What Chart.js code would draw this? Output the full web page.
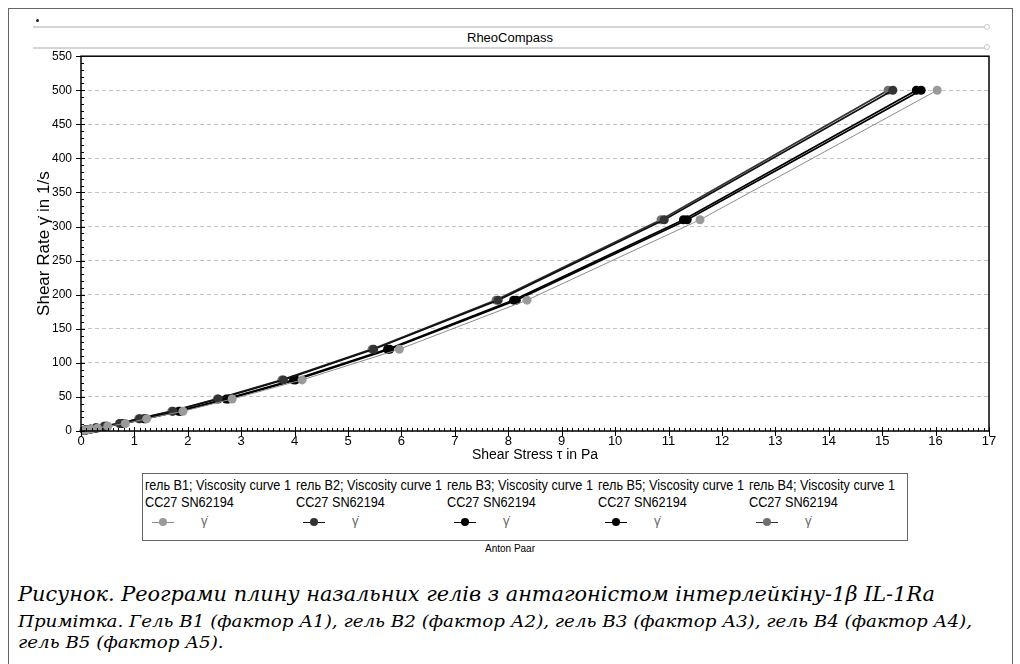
<!DOCTYPE html>
<html>
<head>
<meta charset="utf-8">
<script src="https://cdn.jsdelivr.net/npm/chart.js@4.4.1/dist/chart.umd.min.js"></script>
<style>
  body { margin: 0; background: #fff; width: 1020px; height: 664px; overflow: hidden; position: relative;
         font-family: "Liberation Sans", Arial, sans-serif; color: #000; }
  #ramka { position: absolute; left: 8px; top: 8px; width: 1003px; height: 660px; border: 1px solid #666; border-bottom: none; }
  #shapka { position: absolute; left: 33px; top: 26px; width: 954px; height: 19px; border-top: 2px solid #d4d4d4; border-bottom: 2px solid #d4d4d4;
            text-align: center; font-size: 13px; line-height: 19px; }
  .kinets { position: absolute; left: 984px; width: 4px; height: 4px; border-radius: 50%; border: 1px solid #c8c8c8; background: #fff; }
  #krapka { position: absolute; left: 36px; top: 19px; width: 3px; height: 3px; background: #222; border-radius: 50%; }
  #kanva { position: absolute; left: 0; top: 40px; }
  #legenda { position: absolute; left: 142px; top: 473px; width: 764px; height: 66px; border: 1.5px solid #666; }
  .punkt { position: absolute; top: 3px; width: 150px; height: 60px; }
  .tekst { position: absolute; left: 0; top: 0; font-size: 14px; line-height: 17px; white-space: nowrap; transform-origin: 0 0; }
  .liniya { position: absolute; left: 7px; top: 45px; width: 22px; height: 1px; }
  .kolo { position: absolute; left: 14px; top: 41px; width: 8px; height: 8px; border-radius: 50%; }
  .gama { position: absolute; left: 56px; top: 36px; font-size: 13px; color: #666; }
  #anton { position: absolute; left: 0; width: 1020px; top: 543px; text-align: center; font-size: 10px; }
  .pidpys { position: absolute; left: 18px; font-family: "DejaVu Serif", serif; font-style: italic; white-space: nowrap; transform-origin: 0 0; }
</style>
</head>
<body>
<div id="ramka"></div>
<div id="krapka"></div>
<div id="shapka">RheoCompass</div>
<div class="kinets" style="top:24px"></div>
<div class="kinets" style="top:44px"></div>
<canvas id="kanva" width="1000" height="430"></canvas>
<div id="legenda"></div>
<div id="anton">Anton Paar</div>
<div class="pidpys" id="ryadok1" style="top:582px;font-size:20px;">Рисунок. Реограми плину назальних гелів з антагоністом інтерлейкіну-1β IL-1Ra</div>
<div class="pidpys" id="ryadok2" style="top:612px;font-size:16px;">Примітка. Гель В1 (фактор А1), гель В2 (фактор А2), гель В3 (фактор А3), гель В4 (фактор А4),</div>
<div class="pidpys" id="ryadok3" style="top:633px;font-size:16px;">гель В5 (фактор А5).</div>
<script>
// швидкість зсуву, 1/s
const shvydkist = [1, 1.7, 2.7, 4.3, 7, 11, 18, 29, 47, 75, 120, 192, 310, 500];
// напруга зсуву, Pa
const gelB1 = [0.07, 0.12, 0.19, 0.31, 0.50, 0.83, 1.23, 1.91, 2.83, 4.14, 5.96, 8.35, 11.59, 16.03];
const gelB2 = [0.06, 0.10, 0.17, 0.27, 0.44, 0.73, 1.10, 1.72, 2.57, 3.79, 5.48, 7.81, 10.92, 15.20];
const gelB3 = [0.07, 0.11, 0.18, 0.29, 0.47, 0.78, 1.18, 1.83, 2.72, 3.98, 5.74, 8.10, 11.28, 15.64];
const gelB5 = [0.07, 0.11, 0.18, 0.29, 0.49, 0.80, 1.21, 1.86, 2.76, 4.02, 5.78, 8.15, 11.35, 15.73];
const gelB4 = [0.06, 0.10, 0.17, 0.27, 0.43, 0.72, 1.08, 1.70, 2.55, 3.76, 5.45, 7.77, 10.86, 15.11];

const seriyi = [
  { nazva: "гель B1", dani: gelB1, liniya: "#8c8c8c", tovshchyna: 1, kolir: "#9a9a9a" },
  { nazva: "гель B2", dani: gelB2, liniya: "#111", tovshchyna: 1.8, kolir: "#333" },
  { nazva: "гель B3", dani: gelB3, liniya: "#000", tovshchyna: 1.8, kolir: "#000" },
  { nazva: "гель B5", dani: gelB5, liniya: "#000", tovshchyna: 1.8, kolir: "#000" },
  { nazva: "гель B4", dani: gelB4, liniya: "#333", tovshchyna: 1.8, kolir: "#707070" }
];

const shryft = '"Liberation Sans", Arial, sans-serif';

const ramkaPlugin = {
  id: 'ramkaPlugin',
  afterDatasetsDraw(chart) {
    const { ctx, chartArea: a, scales } = chart;
    ctx.save();
    ctx.strokeStyle = "#000";
    ctx.lineWidth = 1.5;
    ctx.strokeRect(a.left, a.top, a.right - a.left, a.bottom - a.top);
    ctx.lineWidth = 1;
    ctx.beginPath();
    for (let i = 0; i <= 170; i++) {
      const px = Math.round(scales.x.getPixelForValue(i / 10)) + 0.5;
      if (i % 10 === 0) { ctx.moveTo(px, a.bottom - 4); ctx.lineTo(px, a.bottom + 5); }
      else { ctx.moveTo(px, a.bottom); ctx.lineTo(px, a.bottom - 3); }
    }
    for (let i = 0; i <= 55; i++) {
      const py = Math.round(scales.y.getPixelForValue(i * 10)) + 0.5;
      if (i % 5 === 0) { ctx.moveTo(a.left - 5, py); ctx.lineTo(a.left + 4, py); }
      else { ctx.moveTo(a.left, py); ctx.lineTo(a.left + 3, py); }
    }
    ctx.stroke();
    ctx.restore();
  }
};

const grafik = new Chart(document.getElementById('kanva'), {
  type: 'line',
  data: {
    datasets: seriyi.map(s => ({
      label: s.nazva,
      data: s.dani.map((v, i) => ({ x: v, y: shvydkist[i] })),
      borderColor: s.liniya,
      borderWidth: s.tovshchyna,
      backgroundColor: s.kolir,
      pointBackgroundColor: s.kolir,
      pointBorderColor: s.kolir,
      pointRadius: 4.5,
      pointBorderWidth: 0,
      tension: 0
    }))
  },
  options: {
    responsive: false,
    animation: false,
    devicePixelRatio: 1,
    clip: false,
    layout: { padding: { left: 34, right: 11, top: 8, bottom: 0 } },
    plugins: { legend: { display: false }, tooltip: { enabled: false } },
    scales: {
      x: {
        type: 'linear', min: 0, max: 17,
        afterFit: s => { s.height = 39; },
        ticks: { stepSize: 1, padding: 3, color: '#000', font: { family: shryft, size: 13 } },
        grid: { display: false, drawTicks: false },
        border: { display: false },
        title: { display: true, text: 'Shear Stress τ in Pa', color: '#000', padding: { top: 0, bottom: 6 }, font: { family: shryft, size: 14 } }
      },
      y: {
        type: 'linear', min: 0, max: 550,
        afterFit: s => { s.width = 47; },
        ticks: { stepSize: 50, padding: 9, color: '#000', font: { family: shryft, size: 12 } },
        grid: { color: '#c4c4c4', lineWidth: 1, drawTicks: false },
        border: { display: false, dash: [4, 3] },
        title: { display: true, text: 'Shear Rate γ̇ in 1/s', color: '#000', padding: { top: 0, bottom: 0 }, font: { family: shryft, size: 17 } }
      }
    }
  },
  plugins: [ramkaPlugin]
});

// підгонка ширини тексту
function pidignaty(el, shyryna) {
  const w = el.getBoundingClientRect().width;
  el.style.transform = `scaleX(${shyryna / w})`;
  return shyryna / w;
}

// легенда
const legenda = document.getElementById('legenda');
seriyi.forEach((s, i) => {
  const p = document.createElement('div');
  p.className = 'punkt';
  p.style.left = (2 + i * 151) + 'px';
  p.innerHTML = `<div class="tekst"><span class="r1">${s.nazva}; Viscosity curve 1</span><br>CC27 SN62194</div>
    <div class="liniya" style="background:${s.liniya}"></div>
    <div class="kolo" style="background:${s.kolir}"></div><span class="gama">γ̇</span>`;
  legenda.appendChild(p);
  const r1 = p.querySelector('.r1');
  const w = r1.getBoundingClientRect().width;
  p.querySelector('.tekst').style.transform = `scaleX(${146 / w})`;
});

pidignaty(document.getElementById('ryadok1'), 917);
const k = pidignaty(document.getElementById('ryadok2'), 954);
document.getElementById('ryadok3').style.transform = `scaleX(${k})`;
</script>
</body>
</html>
